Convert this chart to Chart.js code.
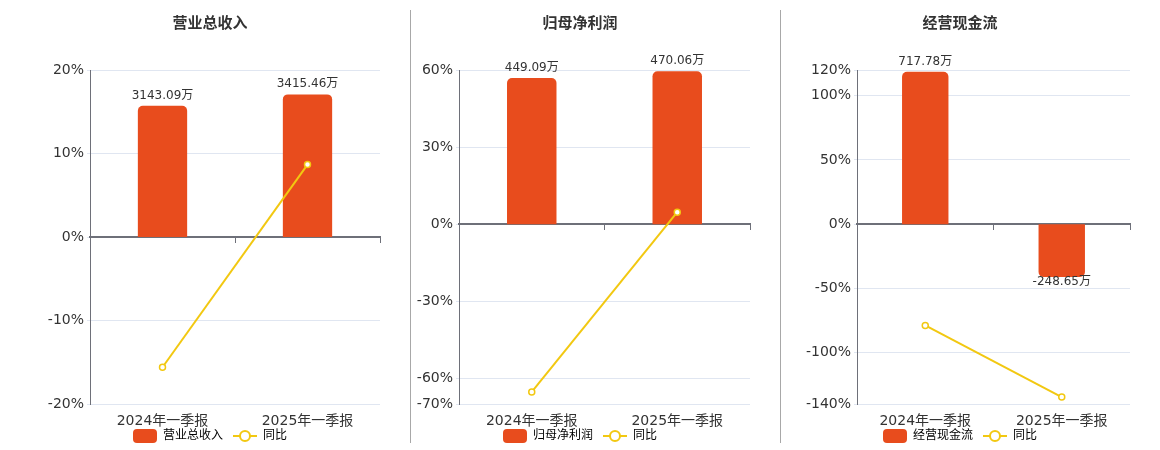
<!DOCTYPE html>
<html>
<head>
<meta charset="utf-8">
<script src="https://cdn.jsdelivr.net/npm/chart.js@4.4.1/dist/chart.umd.min.js"></script>
<style>
    html, body { margin: 0; padding: 0; background: #fff; overflow: hidden; }
    #wrap { position: relative; width: 1160px; height: 450px; }
    canvas { position: absolute; top: 0; }
    .divider { position: absolute; top: 10px; width: 1px; height: 433px; background: #a8a8a8; z-index: 2; }
</style>
</head>
<body>
<div id="wrap">
    <canvas id="revenueChart" width="410" height="450" style="left:0px"></canvas>
    <canvas id="profitChart" width="370" height="450" style="left:410px"></canvas>
    <canvas id="cashChart" width="380" height="450" style="left:780px"></canvas>
    <div class="divider" style="left:410px"></div>
    <div class="divider" style="left:780px"></div>
</div>
<script>
// Chart data
const CATEGORIES = ['2024年一季报', '2025年一季报'];

const REVENUE = [3143.09, 3415.46];
const REVENUE_YOY = [-15.6, 8.67];
const REVENUE_TICKS = [20, 10, 0, -10, -20];

const PROFIT = [449.09, 470.06];
const PROFIT_YOY = [-65.3, 4.67];
const PROFIT_TICKS = [60, 30, 0, -30, -60, -70];

const CASHFLOW = [717.78, -248.65];
const CASHFLOW_YOY = [-78.8, -134.64];
const CASHFLOW_TICKS = [120, 100, 50, 0, -50, -100, -140];

// Styles
const BAR_COLOR = '#e84c1d';
const LINE_COLOR = '#f2c811';
const GRID_COLOR = '#e0e6f1';
const AXIS_COLOR = '#6e7079';
const TEXT_COLOR = '#333';
const FONT = "'DejaVu Sans', 'Noto Sans CJK SC', sans-serif";

Chart.defaults.font.family = FONT;

function makeBarIcon() {
    const c = document.createElement('canvas');
    c.width = 24;
    c.height = 14;
    const ctx = c.getContext('2d');
    ctx.fillStyle = BAR_COLOR;
    ctx.beginPath();
    ctx.roundRect(0, 0, 24, 14, 4);
    ctx.fill();
    return c;
}

function makeLineIcon() {
    const c = document.createElement('canvas');
    c.width = 24;
    c.height = 14;
    const ctx = c.getContext('2d');
    ctx.strokeStyle = LINE_COLOR;
    ctx.lineWidth = 2;
    ctx.beginPath();
    ctx.moveTo(0, 7);
    ctx.lineTo(24, 7);
    ctx.stroke();
    ctx.beginPath();
    ctx.arc(12, 7, 5, 0, Math.PI * 2);
    ctx.fillStyle = '#fff';
    ctx.fill();
    ctx.stroke();
    return c;
}

const barIcon = makeBarIcon();
const lineIcon = makeLineIcon();

// Value labels on the bars
const barValueLabels = {
    id: 'barValueLabels',
    afterDatasetsDraw(chart) {
        const meta = chart.getDatasetMeta(0);
        const values = chart.data.datasets[0].data;
        const ctx = chart.ctx;
        ctx.save();
        ctx.font = '12px ' + FONT;
        ctx.fillStyle = TEXT_COLOR;
        ctx.textAlign = 'center';
        meta.data.forEach((bar, i) => {
            const text = values[i].toFixed(2) + '万';
            if (values[i] >= 0) {
                ctx.textBaseline = 'alphabetic';
                ctx.fillText(text, bar.x, bar.y - 7);
            } else {
                ctx.textBaseline = 'top';
                ctx.fillText(text, bar.x, bar.y - 1);
            }
        });
        ctx.restore();
    }
};

function createPanel(canvasId, panel) {
    const yMax = panel.ticks[0];
    const yMin = panel.ticks[panel.ticks.length - 1];

    return new Chart(document.getElementById(canvasId), {
        type: 'bar',
        data: {
            labels: CATEGORIES,
            datasets: [
                {
                    type: 'bar',
                    label: panel.barLabel,
                    data: panel.bars,
                    yAxisID: 'y2',
                    backgroundColor: BAR_COLOR,
                    borderRadius: 5,
                    borderSkipped: 'start',
                    barPercentage: 0.34,
                    categoryPercentage: 1,
                    order: 2
                },
                {
                    type: 'line',
                    label: '同比',
                    data: panel.yoy,
                    yAxisID: 'y',
                    borderColor: LINE_COLOR,
                    borderWidth: 2,
                    pointRadius: 3,
                    pointBorderWidth: 1.5,
                    pointBackgroundColor: '#fff',
                    pointBorderColor: LINE_COLOR,
                    tension: 0,
                    order: 1
                }
            ]
        },
        options: {
            responsive: false,
            animation: false,
            layout: {
                padding: { left: panel.padLeft, right: 30, top: 0, bottom: 0 }
            },
            plugins: {
                title: {
                    display: true,
                    text: panel.title,
                    color: TEXT_COLOR,
                    font: { size: 15, weight: 'bold' },
                    padding: { top: 15, bottom: 37 }
                },
                legend: {
                    position: 'bottom',
                    maxHeight: 30,
                    labels: {
                        usePointStyle: true,
                        pointStyleWidth: 24,
                        padding: 10,
                        color: TEXT_COLOR,
                        font: { size: 12 },
                        generateLabels: () => [
                            { text: panel.barLabel, pointStyle: barIcon, fillStyle: BAR_COLOR, strokeStyle: BAR_COLOR, lineWidth: 0, datasetIndex: 0, hidden: false },
                            { text: '同比', pointStyle: lineIcon, fillStyle: LINE_COLOR, strokeStyle: LINE_COLOR, lineWidth: 0, datasetIndex: 1, hidden: false }
                        ]
                    }
                },
                tooltip: { enabled: false }
            },
            scales: {
                x: {
                    type: 'category',
                    position: 'bottom',
                    offset: true,
                    grid: { display: false, drawTicks: false },
                    border: { display: false },
                    afterFit: (scale) => {
                        scale.height = 16;
                    },
                    ticks: {
                        color: TEXT_COLOR,
                        font: { size: 14, lineHeight: '1px' },
                        mirror: true,
                        padding: -18
                    }
                },
                x2: {
                    type: 'category',
                    position: { y: 0 },
                    offset: true,
                    grid: {
                        display: true,
                        drawOnChartArea: false,
                        drawTicks: true,
                        tickLength: 5,
                        color: AXIS_COLOR,
                        offset: true
                    },
                    border: { display: true, color: AXIS_COLOR, width: 2 },
                    ticks: { display: false }
                },
                y: {
                    type: 'linear',
                    position: 'left',
                    min: yMin,
                    max: yMax,
                    afterBuildTicks: (scale) => {
                        scale.ticks = panel.ticks.map(v => ({ value: v }));
                    },
                    afterFit: (scale) => {
                        scale.width = panel.axisWidth;
                    },
                    ticks: {
                        color: TEXT_COLOR,
                        font: { size: 14 },
                        padding: 3,
                        autoSkip: false,
                        callback: (v) => v + '%'
                    },
                    grid: {
                        color: GRID_COLOR,
                        tickLength: 3
                    },
                    border: { display: true, color: AXIS_COLOR, width: 1 }
                },
                y2: {
                    type: 'linear',
                    display: false,
                    min: panel.barTop * yMin / yMax,
                    max: panel.barTop
                }
            }
        },
        plugins: [barValueLabels]
    });
}

createPanel('revenueChart', {
    title: '营业总收入', barLabel: '营业总收入',
    bars: REVENUE, yoy: REVENUE_YOY, ticks: REVENUE_TICKS,
    barTop: 4000, padLeft: 40, axisWidth: 50
});

createPanel('profitChart', {
    title: '归母净利润', barLabel: '归母净利润',
    bars: PROFIT, yoy: PROFIT_YOY, ticks: PROFIT_TICKS,
    barTop: 474, padLeft: 0, axisWidth: 49
});

createPanel('cashChart', {
    title: '经营现金流', barLabel: '经营现金流',
    bars: CASHFLOW, yoy: CASHFLOW_YOY, ticks: CASHFLOW_TICKS,
    barTop: 726, padLeft: 10, axisWidth: 67
});
</script>
</body>
</html>
